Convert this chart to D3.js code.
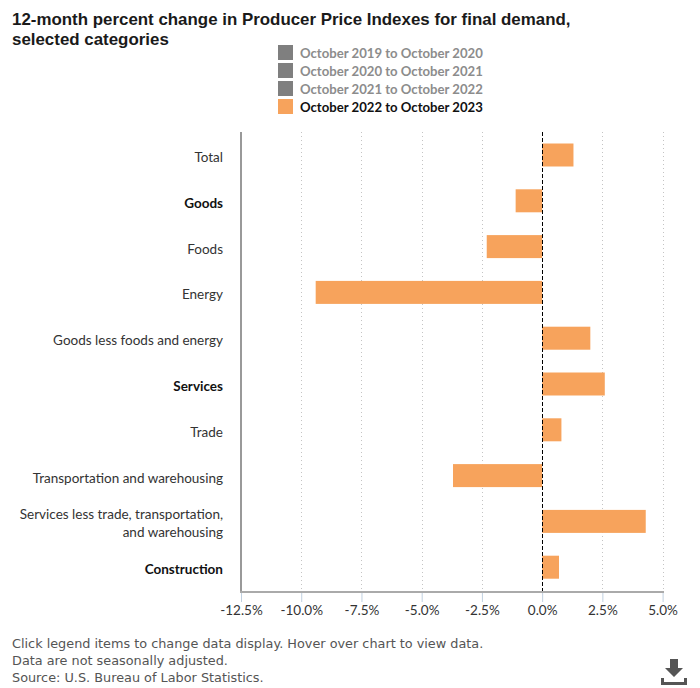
<!DOCTYPE html>
<html><head><meta charset="utf-8">
<script src="https://cdn.jsdelivr.net/npm/d3@7"></script>
<style>html,body{margin:0;background:#fff}svg{display:block}</style></head>
<body><div id="c"></div>
<script>
const categories = ["Total","Goods","Foods","Energy","Goods less foods and energy","Services","Trade","Transportation and warehousing","Services less trade, transportation,|and warehousing","Construction"];
const boldCategories = ["Goods","Services","Construction"];
const values = [1.3,-1.1,-2.3,-9.4,2.0,2.6,0.8,-3.7,4.3,0.7];
const xTicks = [-12.5,-10,-7.5,-5,-2.5,0,2.5,5];
const legendItems = ["October 2019 to October 2020","October 2020 to October 2021","October 2021 to October 2022","October 2022 to October 2023"];
const legendActive = [false,false,false,true];
const titleLines = ["12-month percent change in Producer Price Indexes for final demand,","selected categories"];
const footerLines = ["Click legend items to change data display. Hover over chart to view data.","Data are not seasonally adjusted.","Source: U.S. Bureau of Labor Statistics."];

const svg = d3.select("#c").append("svg").attr("width",700).attr("height",688);
const x = d3.scaleLinear().domain([-12.5,5]).range([241,662.6]);
const y = d3.scaleBand().domain(categories).range([132.1,590.1]);
const LF = "Lato, sans-serif";

svg.append("g").selectAll("text").data(titleLines).join("text")
  .attr("x",12).attr("y",(d,i)=>25+i*20)
  .attr("font-family","Liberation Sans, Arial, sans-serif").attr("font-weight",700).attr("font-size",16.9).attr("fill","#1a1a1a").text(d=>d);

const lg = svg.append("g").selectAll("g").data(legendItems).join("g")
  .attr("transform",(d,i)=>`translate(278,${45+i*18})`);
lg.append("rect").attr("width",15).attr("height",15)
  .attr("fill",(d,i)=>legendActive[i]?"#f7a35c":"#7f7f7f");
lg.append("text").attr("x",22).attr("y",12.5).attr("font-family",LF).attr("font-weight",700).attr("font-size",13.15)
  .attr("fill",(d,i)=>legendActive[i]?"#111":"#8c8c8c").text(d=>d);

svg.append("g").selectAll("line").data(xTicks.filter(t=>t>-12.5&&t!==0)).join("line")
  .attr("x1",d=>Math.round(x(d))+.5).attr("x2",d=>Math.round(x(d))+.5).attr("y1",132).attr("y2",592)
  .attr("stroke","#c4c4c4").attr("stroke-width",1).attr("stroke-dasharray","1,3");

svg.append("g").selectAll("rect").data(categories).join("rect")
  .attr("x",(d,i)=>x(Math.min(0,values[i])))
  .attr("width",(d,i)=>Math.abs(x(values[i])-x(0)))
  .attr("y",d=>y(d)+y.bandwidth()/2-11.5).attr("height",23)
  .attr("fill","#f7a35c");

svg.append("line").attr("x1",Math.round(x(0))+.5).attr("x2",Math.round(x(0))+.5).attr("y1",132).attr("y2",592)
  .attr("stroke","#000").attr("stroke-width",1).attr("stroke-dasharray","4,2");

const ax = svg.append("g").attr("transform","translate(0,592)")
  .call(d3.axisBottom(x).tickValues(xTicks).tickFormat(d=>d3.format(".1f")(d).replace("\u2212","-")+"%").tickSize(10).tickPadding(3));
ax.select(".domain").remove();
ax.selectAll("line").attr("stroke","#c0d0e0");
ax.selectAll("text").attr("font-family",LF).attr("font-size",13.5).attr("fill","#333");

svg.append("line").attr("x1",241).attr("x2",241).attr("y1",132).attr("y2",592).attr("stroke","#999").attr("stroke-width",2);
svg.append("line").attr("x1",240).attr("x2",664).attr("y1",592).attr("y2",592).attr("stroke","#aaa").attr("stroke-width",2);

const yl = svg.append("g").selectAll("text").data(categories).join("text")
  .attr("text-anchor","end").attr("font-family",LF).attr("font-size",13.5)
  .attr("font-weight",d=>boldCategories.includes(d)?700:400)
  .attr("fill",d=>boldCategories.includes(d)?"#111":"#333")
  .attr("x",223).attr("y",d=>y(d)+y.bandwidth()/2+(d.includes("|")?-2:7));
yl.selectAll("tspan").data(d=>d.split("|")).join("tspan")
  .attr("x",223).attr("dy",(d,i)=>i?18:0).text(d=>d);

svg.append("g").selectAll("text").data(footerLines).join("text")
  .attr("x",12).attr("y",(d,i)=>648+i*17)
  .attr("font-family","DejaVu Sans, sans-serif").attr("font-size",12.83).attr("fill","#555").text(d=>d);

const icon = svg.append("g").attr("fill","#555");
icon.append("path").attr("d","M670 659h8v9h5l-9 9l-9-9h5z");
icon.append("path").attr("d","M661 678h3v4h20v-4h3v7h-26z");
</script></body></html>
